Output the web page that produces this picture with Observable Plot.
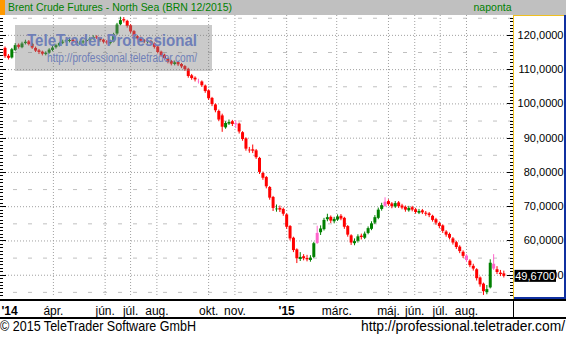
<!DOCTYPE html>
<html><head><meta charset="utf-8">
<script src="https://cdn.jsdelivr.net/npm/d3@7"></script>
<script src="https://cdn.jsdelivr.net/npm/@observablehq/plot@0.6"></script>
<style>
html,body{margin:0;padding:0;background:#fff;}
#wrap{position:relative;width:566px;height:337px;overflow:hidden;background:#fff;font-family:"Liberation Sans",Arial,sans-serif;}
#chart{position:absolute;left:0;top:0;}
svg.over{position:absolute;left:0;top:0;pointer-events:none;}
</style></head><body>
<div id="wrap"><div id="chart"></div></div>
<script>
// ---- data ----
const startDate = "2014-02-03";
const stepDays = 4;
const opens = [116.2,113.9,113.4,115.6,117.1,116.4,117.6,118.1,117.4,116.2,
115.5,115.1,114.4,114.8,115.6,116.4,116.9,117.7,118.1,118.2,
118.6,118.2,117.5,117.8,118.2,118.4,118.9,119.5,119.1,118.6,
118.1,117.6,118.1,120.4,123.1,124.6,124.1,122.8,121.1,119.6,
119.1,118.4,117.9,118.2,117.5,116.6,115.1,114.2,113.1,112.4,
111.5,112.1,111.5,110.9,110.1,108.2,107.5,106.55,106.4,105.2,
103.8,101.6,99.7,97.8,96.5,93,94.1,94.8,93.9,94.1,
91.6,89.8,86.5,86.6,86.3,84.1,79.7,78.5,75.6,72.7,
69.1,69.5,69.2,67.6,64.2,60.8,57.4,54.6,55.4,54.9,
54.3,55.2,59.3,62.4,63.3,66.2,66.9,65.6,66.1,67.2,
66.6,64.2,61.5,59.2,59.9,61.4,60.8,62.2,63.4,65.2,
66.6,69.2,70.1,71.5,70.8,69.9,71.1,70.2,69.8,68.8,
69.7,69.1,68.1,68.8,68.1,67.9,67.2,66.2,65.1,64.4,
62.6,61.9,60.6,59.5,58.2,56.7,55.6,54.1,52.6,51.6,
49.2,47.4,44.9,46.3,53.2,51.6,50.6,50.4];
const highs = [116.6,114.4,116.2,117.6,117.5,118,118.6,118.5,117.7,116.6,
115.9,115.4,115.2,116.1,116.8,117.4,118,118.6,118.9,119,
119,118.5,118.2,118.6,118.9,119.4,119.9,119.9,119.4,118.9,
118.5,118.6,120.6,123.5,125.3,125.2,124.4,123.1,121.4,119.9,
119.5,118.8,118.6,118.5,117.8,116.9,115.4,114.5,113.4,112.7,
112.5,112.4,111.8,111.2,110.4,108.6,107.9,107.2,106.7,105.5,
104.1,101.9,100,98.2,97,94.8,95.3,95.2,95.1,94.4,
91.9,90.1,87.3,88,86.7,84.4,80.1,78.8,75.9,73,
70.5,70.2,69.6,67.9,64.5,61.1,57.7,56.6,56,55.8,
55.7,59.6,64.3,64.4,66.6,67.8,67.3,66.9,67.6,67.7,
66.9,64.5,61.8,60.6,61.8,62,62.6,64.1,65.6,67.4,
69.6,71,72.6,72,71.2,71.5,71.5,70.7,70.2,70.1,
70.1,69.5,69.2,69.2,68.6,68.3,67.5,66.6,65.5,64.7,
63,62.3,61,59.9,58.6,57.1,56,54.5,53.2,51.9,
49.5,47.7,47,54.5,56,52.5,51.4,51.2];
const lows = [113.3,112.8,113.1,115.3,116,116.1,117.2,116.9,115.9,115,
114.4,114,114,114.5,115.2,116,116.6,117.3,117.7,117.8,
117.7,117.1,117.1,117.4,117.8,118,118.6,118.8,118,117.5,
117.2,117.2,117.8,120,122.8,123.6,122.1,120.5,119,118.5,
117.9,117.6,117.5,117.1,116,114.6,113.6,112.7,111.7,111.1,
111.1,110.9,110.3,109.5,107.5,106.9,106.4,105.8,104.8,103.1,
101,99.2,97.4,94.8,91.7,92.6,93.7,93.4,92.8,91.2,
89.1,86.2,85.6,85.5,83.8,79.4,77.7,75.2,71.9,68.6,
68.4,68.3,67.2,63.4,60,56.6,53.4,54,54.2,53.9,
53.8,54.9,59,61.6,62.9,65.6,65.1,65,65.7,65.9,
63.4,61.1,58.7,58.6,59.4,60.3,60.4,61.8,63,64.8,
66.2,68.7,69.8,70.1,69.4,69.5,69.5,69.1,68.4,68.4,
68.5,67.8,67.7,67.7,67.2,66.8,65.5,64.6,63.6,62.2,
61.1,60.3,58.8,57.5,56.3,54.9,53.7,52.2,51.2,48.3,
46.5,44.1,44.3,46,51.4,50.2,49.6,49.2];
const closes = [113.8,113.3,115.8,117,116.5,117.5,118,117.3,116.3,115.4,
115,114.5,114.7,115.7,116.3,117,117.6,118,118.4,118.5,
118.1,117.6,117.7,118.1,118.5,118.9,119.4,119.2,118.5,118,
117.8,118,120.2,123,124.3,124.2,122.6,121,119.5,119,
118.3,118.1,118.1,117.6,116.5,115,114.1,113.2,112.2,111.6,
112,111.4,110.8,110,108,107.4,107,106.5,105.3,103.6,
101.5,99.8,98,95.3,93.2,94.3,94.6,94,94.2,91.8,
89.6,86.8,86.3,86.2,84.3,80,78.3,75.8,72.5,69.5,
69.3,69,67.8,64,60.6,57.2,54.8,55.2,54.8,54.5,
55,59.2,62.2,63.5,66,66.8,65.8,66.3,67,66.4,
64,61.7,59.4,59.8,61.2,61,62,63.6,65,66.8,
69,70.3,71.3,70.6,70,70.9,70,69.6,69,69.5,
69,68.3,68.6,68.2,67.8,67.4,66,65.2,64.2,62.8,
61.7,60.8,59.4,58.1,56.9,55.5,54.3,52.8,51.8,49,
47.2,45.2,45.8,53.5,51.8,50.8,50.2,49.67];
const flagged = [57, 68, 92, 112, 136, 144];
const lastValue = 49.67;

const xTickDates = ["2014-04-01","2014-06-01","2014-07-01","2014-08-01","2014-10-01","2014-11-01",
  "2015-01-01","2015-03-01","2015-05-01","2015-06-01","2015-07-01","2015-08-01"];
const xTickLabels = ["ápr.","jún.","júl.","aug.","okt.","nov.","'15","márc.","máj.","jún.","júl.","aug."];
const firstYearLabel = "'14";
const yTicks = [50,60,70,80,90,100,110,120];
const yHalfTicks = [45,55,65,75,85,95,105,115,125];
const xDomain = ["2014-01-31", "2015-09-25T10:00"];
const yDomain = [43.5, 125.8];

// ---- build ----
const candles = closes.map((c, i) => ({
  date: d3.utcDay.offset(new Date(startDate), stepDays * i),
  open: opens[i], high: highs[i], low: lows[i], close: c,
  flag: flagged.includes(i)
}));
const tickDates = xTickDates.map(d => new Date(d));
const candleColor = d => d.flag ? "#ff66cc" : (d.close >= d.open ? "#008000" : "#ff0000");
const fmt = v => v.toFixed(4).replace(".", ",");

function sideTicks(index, scales, values, dims) {
  const y = scales.y;
  const g = d3.create("svg:g").attr("stroke", "#000").attr("stroke-width", 1);
  const R = dims.width - dims.marginRight;
  const [lo, hi] = yDomain;
  for (const v of d3.range(Math.ceil(lo), Math.floor(hi) + 1)) {
    const yy = Math.round(y(v)) + 0.5;
    const len = v % 10 === 0 ? 6 : 3;
    g.append("line").attr("x1", 0).attr("x2", len).attr("y1", yy).attr("y2", yy);
    g.append("line").attr("x1", R - len).attr("x2", R).attr("y1", yy).attr("y2", yy);
  }
  return g.node();
}
function lastBox(index, scales, values, dims) {
  const y = scales.y;
  const R = dims.width - dims.marginRight;
  const yy = y(lastValue);
  const g = d3.create("svg:g");
  g.append("rect").attr("x", R + 1.5).attr("y", yy - 6).attr("width", 41.5).attr("height", 12).attr("fill", "#000");
  g.append("text").attr("x", R + 42).attr("y", yy).attr("dy", "0.35em").attr("text-anchor", "end")
    .attr("fill", "#fff").attr("font-size", 11).attr("font-family", "Liberation Sans, Arial, sans-serif")
    .text(fmt(lastValue));
  return g.node();
}

const chart = Plot.plot({
  width: 566, height: 337,
  marginTop: 15, marginBottom: 40, marginLeft: 2, marginRight: 53,
  x: {type: "utc", domain: xDomain.map(d => new Date(d)), axis: null},
  y: {domain: yDomain, axis: null},
  color: {type: "identity"},
  style: {fontFamily: "Liberation Sans, Arial, sans-serif", fontSize: "11px", background: "transparent", color: "#000", overflow: "visible"},
  marks: [
    Plot.ruleY(yHalfTicks, {stroke: "#c0c0c0", strokeDasharray: "4,11", strokeDashoffset: 4}),
    Plot.ruleY(yTicks, {stroke: "#a0a0a0", strokeDasharray: "1,2"}),
    Plot.ruleX(tickDates, {stroke: "#a0a0a0", strokeDasharray: "1,2"}),
    Plot.ruleX(candles, {x: "date", y1: "low", y2: "high", stroke: candleColor, strokeWidth: 1}),
    Plot.ruleX(candles, {x: "date", y1: "open", y2: "close", stroke: candleColor, strokeWidth: 3}),
    sideTicks,
    Plot.text(tickDates, {x: d => d, text: (d, i) => xTickLabels[i], filter: (d, i) => !xTickLabels[i].startsWith("'"),
      frameAnchor: "bottom", dy: 14, lineAnchor: "middle", fontSize: 12, fill: "#000"}),
    Plot.text(tickDates, {x: d => d, text: (d, i) => xTickLabels[i], filter: (d, i) => xTickLabels[i].startsWith("'"),
      frameAnchor: "bottom", dy: 14, lineAnchor: "middle", fontSize: 12, fontWeight: "bold", fill: "#000"}),
    Plot.text([firstYearLabel], {text: d => d, frameAnchor: "bottom-left", dx: -1, dy: 14, lineAnchor: "middle",
      textAnchor: "start", fontSize: 12, fontWeight: "bold", fill: "#000"}),
    Plot.text(yTicks, {y: d => d, text: d => fmt(d), frameAnchor: "right", dx: 50, textAnchor: "end", fontSize: 11, fill: "#000"}),
    lastBox
  ]
});
document.getElementById("chart").appendChild(chart);

// ---- chrome overlay (frame, title bar, watermark, footer) ----
const over = d3.select("#wrap").append("svg").attr("class", "over").attr("width", 566).attr("height", 337)
  .attr("font-family", "Liberation Sans, Arial, sans-serif");
// watermark
over.append("rect").attr("x", 15).attr("y", 25).attr("width", 197).attr("height", 46).attr("fill", "rgb(128,128,128)").attr("fill-opacity", 0.42);
over.append("text").attr("x", 27).attr("y", 46).attr("font-size", 16.5).attr("font-weight", "bold").attr("fill", "#6f7fb8")
  .attr("textLength", 170).attr("lengthAdjust", "spacingAndGlyphs").text("TeleTrader Professional");
over.append("text").attr("x", 47).attr("y", 62).attr("font-size", 12).attr("fill", "#6f7fb8")
  .attr("textLength", 150).attr("lengthAdjust", "spacingAndGlyphs").text("http://professional.teletrader.com/");
// title bar
over.append("rect").attr("x", 0).attr("y", 0).attr("width", 566).attr("height", 15).attr("fill", "#c0c0c0");
over.append("rect").attr("x", 0).attr("y", 0).attr("width", 5).attr("height", 15).attr("fill", "#ff9900");
over.append("text").attr("x", 8).attr("y", 11).attr("font-size", 10.5).attr("fill", "#008000")
  .attr("textLength", 224).attr("lengthAdjust", "spacingAndGlyphs").text("Brent Crude Futures - North Sea (BRN 12/2015)");
over.append("text").attr("x", 511.5).attr("y", 11).attr("font-size", 10.5).attr("fill", "#008000").attr("text-anchor", "end").text("naponta");
// value panel borders
over.append("rect").attr("x", 513).attr("y", 15).attr("width", 1).attr("height", 284).attr("fill", "#f0c020");
over.append("rect").attr("x", 513).attr("y", 15).attr("width", 51).attr("height", 1).attr("fill", "#f0c020");
over.append("rect").attr("x", 564).attr("y", 15).attr("width", 2).attr("height", 284).attr("fill", "#1030a0");
over.append("rect").attr("x", 514).attr("y", 297).attr("width", 52).attr("height", 2).attr("fill", "#1030a0");
// x-axis band
over.append("rect").attr("x", 0).attr("y", 299).attr("width", 566).attr("height", 2).attr("fill", "#000");
over.append("rect").attr("x", 0).attr("y", 317).attr("width", 566).attr("height", 2).attr("fill", "#000");
over.append("rect").attr("x", 513).attr("y", 300).attr("width", 1).attr("height", 18).attr("fill", "#000");
// footer
over.append("text").attr("x", 0).attr("y", 331).attr("font-size", 13.8).attr("fill", "#000")
  .attr("textLength", 196).attr("lengthAdjust", "spacingAndGlyphs").text("© 2015 TeleTrader Software GmbH");
over.append("text").attr("x", 565).attr("y", 331).attr("font-size", 13.8).attr("fill", "#000").attr("text-anchor", "end")
  .text("http://professional.teletrader.com/");
</script>
</body></html>
